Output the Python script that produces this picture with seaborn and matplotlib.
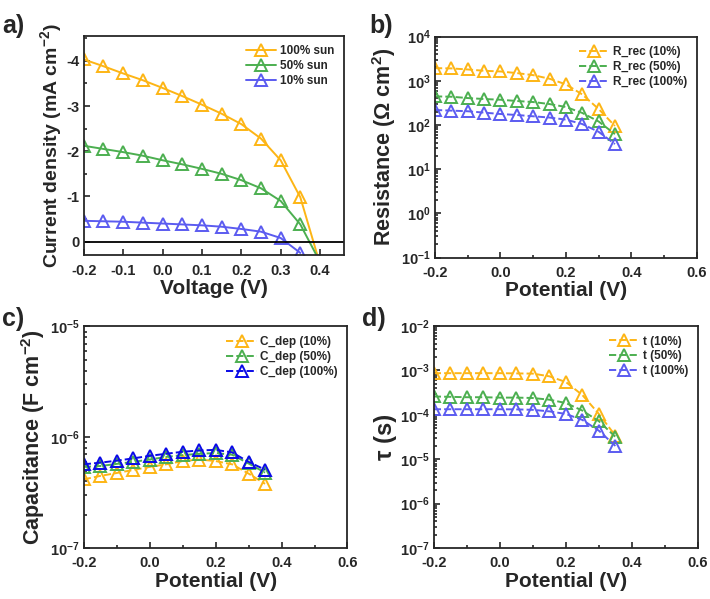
import numpy as np
import pandas as pd
import seaborn as sns
import matplotlib.pyplot as plt
from matplotlib.ticker import MultipleLocator, LogLocator, NullFormatter

# ---- data ----
v_jv = [-0.2, -0.15, -0.1, -0.05, 0.0, 0.05, 0.1, 0.15, 0.2, 0.25, 0.3, 0.35, 0.4]
j_100 = [-4.03, -3.88, -3.72, -3.57, -3.40, -3.22, -3.03, -2.83, -2.60, -2.28, -1.80, -0.98, 0.5]
j_50 = [-2.12, -2.05, -1.98, -1.90, -1.80, -1.71, -1.61, -1.50, -1.36, -1.18, -0.90, -0.38, 0.45]
j_10 = [-0.46, -0.45, -0.44, -0.42, -0.40, -0.38, -0.36, -0.33, -0.28, -0.22, -0.08, 0.25]

potential = [-0.2, -0.15, -0.1, -0.05, 0.0, 0.05, 0.1, 0.15, 0.2, 0.25, 0.3, 0.35]

r_10 = [1930, 1900, 1800, 1680, 1620, 1490, 1340, 1110, 830, 490, 230, 95]
r_50 = [443, 435, 406, 386, 372, 348, 330, 297, 255, 187, 120, 62]
r_100 = [218, 211, 204, 190, 177, 168, 157, 147, 132, 105, 70, 37]

c_10 = [4.17e-7, 4.48e-7, 4.76e-7, 5.07e-7, 5.4e-7, 5.7e-7, 6.1e-7, 6.3e-7, 6.1e-7, 5.7e-7, 4.7e-7, 3.8e-7]
c_50 = [5.4e-7, 5.5e-7, 5.75e-7, 6.0e-7, 6.3e-7, 6.65e-7, 6.9e-7, 7.1e-7, 7.2e-7, 6.95e-7, 5.8e-7, 4.8e-7]
c_100 = [5.7e-7, 5.9e-7, 6.15e-7, 6.45e-7, 6.8e-7, 7.1e-7, 7.4e-7, 7.6e-7, 7.7e-7, 7.3e-7, 6.0e-7, 5.1e-7]

t_10 = [8.7e-4, 8.7e-4, 8.7e-4, 8.7e-4, 8.7e-4, 8.6e-4, 8.5e-4, 7.4e-4, 5.5e-4, 2.8e-4, 1.05e-4, 3.4e-5]
t_50 = [2.6e-4, 2.55e-4, 2.5e-4, 2.5e-4, 2.45e-4, 2.45e-4, 2.4e-4, 2.2e-4, 1.85e-4, 1.25e-4, 7.2e-5, 3.2e-5]
t_100 = [1.34e-4, 1.34e-4, 1.34e-4, 1.34e-4, 1.34e-4, 1.33e-4, 1.3e-4, 1.2e-4, 1.05e-4, 7.7e-5, 4.4e-5, 2.0e-5]

orange = '#FDB515'
green = '#4CAF50'
blue = '#5B5BF0'
dark_blue = '#0A0AE6'

sns.set_style('ticks')
plt.rcParams['font.family'] = ['Liberation Sans', 'DejaVu Sans']
plt.rcParams['font.weight'] = 'bold'
plt.rcParams['axes.labelweight'] = 'bold'
plt.rcParams['mathtext.fontset'] = 'custom'
plt.rcParams['mathtext.rm'] = 'Liberation Sans:bold'
plt.rcParams['mathtext.bf'] = 'Liberation Sans:bold'
plt.rcParams['mathtext.it'] = 'Liberation Sans:bold:italic'
plt.rcParams['mathtext.default'] = 'rm'

fig = plt.figure(figsize=(7.1, 5.99), dpi=100)
ax_a = fig.add_axes([0.118, 0.574, 0.366, 0.366])
ax_b = fig.add_axes([0.6127, 0.570, 0.3686, 0.369])
ax_c = fig.add_axes([0.118, 0.085, 0.3714, 0.370])
ax_d = fig.add_axes([0.611, 0.085, 0.372, 0.3706])


def draw(ax, x, y, label, color, ls):
    df = pd.DataFrame({'x': x, 'y': y})
    sns.lineplot(data=df, x='x', y='y', ax=ax, color=color, label=label,
                 marker='^', markersize=8, markerfacecolor='none',
                 markeredgecolor=color, markeredgewidth=1.4,
                 linestyle=ls, linewidth=1.4, sort=False, estimator=None)


def style(ax, xlabel, ylabel, ysize=15):
    ax.set_xlabel(xlabel, fontsize=15, fontweight='bold', labelpad=1)
    ax.set_ylabel(ylabel, fontsize=ysize, fontweight='bold', labelpad=2)
    ax.tick_params(which='both', direction='in', labelsize=10.5, width=1.2)
    ax.tick_params(axis='x', which='both', pad=6)
    ax.tick_params(axis='y', which='both', pad=3)
    ax.tick_params(which='major', length=4)
    ax.tick_params(which='minor', length=2.5)
    for sp in ax.spines.values():
        sp.set_linewidth(1.3)
        sp.set_visible(True)
    leg = ax.legend(loc='upper right', frameon=False, fontsize=8.5,
                    handlelength=2.6, handletextpad=0.3, labelspacing=0.25,
                    borderaxespad=0.4)
    for t in leg.get_texts():
        t.set_fontweight('bold')


# a) J-V
draw(ax_a, v_jv, j_100, '100% sun', orange, '-')
draw(ax_a, v_jv, j_50, '50% sun', green, '-')
draw(ax_a, v_jv[:len(j_10)], j_10, '10% sun', blue, '-')
ax_a.axhline(0, color='black', linewidth=1.3)
ax_a.set_xlim(-0.2, 0.46)
ax_a.set_ylim(0.3, -4.55)
ax_a.xaxis.set_major_locator(MultipleLocator(0.1))
ax_a.yaxis.set_major_locator(MultipleLocator(1))
ax_a.yaxis.set_minor_locator(MultipleLocator(0.5))
ax_a.xaxis.set_major_formatter(plt.FuncFormatter(lambda v, p: f'{v:.1f}'))
ax_a.yaxis.set_major_formatter(plt.FuncFormatter(lambda v, p: f'{v:.0f}'))
style(ax_a, 'Voltage (V)', 'Current density (mA cm$^{-2}$)', ysize=14)

# b) Resistance
draw(ax_b, potential, r_10, 'R_rec (10%)', orange, '--')
draw(ax_b, potential, r_50, 'R_rec (50%)', green, '--')
draw(ax_b, potential, r_100, 'R_rec (100%)', blue, '--')
ax_b.set_yscale('log')
ax_b.set_ylim(1e-1, 1e4)
style(ax_b, 'Potential (V)', 'Resistance (Ω cm$^{2}$)', ysize=15.5)

# c) Capacitance
draw(ax_c, potential, c_10, 'C_dep (10%)', orange, '--')
draw(ax_c, potential, c_50, 'C_dep (50%)', green, '--')
draw(ax_c, potential, c_100, 'C_dep (100%)', dark_blue, '--')
ax_c.set_yscale('log')
ax_c.set_ylim(1e-7, 1e-5)
style(ax_c, 'Potential (V)', 'Capacitance (F cm$^{-2}$)', ysize=15.5)

# d) lifetime
draw(ax_d, potential, t_10, 't (10%)', orange, '--')
draw(ax_d, potential, t_50, 't (50%)', green, '--')
draw(ax_d, potential, t_100, 't (100%)', blue, '--')
ax_d.set_yscale('log')
ax_d.set_ylim(1e-7, 1e-2)
style(ax_d, 'Potential (V)', 'τ (s)', ysize=17)

for ax in (ax_b, ax_c, ax_d):
    ax.set_xlim(-0.2, 0.6)
    ax.xaxis.set_major_locator(MultipleLocator(0.2))
    ax.xaxis.set_minor_locator(MultipleLocator(0.1))
    ax.xaxis.set_major_formatter(plt.FuncFormatter(lambda v, p: f'{v:.1f}'))
    ax.yaxis.set_major_locator(LogLocator(base=10, numticks=20))
    ax.yaxis.set_minor_locator(LogLocator(base=10, subs=np.arange(2, 10), numticks=20))
    ax.yaxis.set_minor_formatter(NullFormatter())

for ax in (ax_a, ax_b, ax_c, ax_d):
    for lab in ax.get_xticklabels() + ax.get_yticklabels():
        lab.set_fontweight('bold')

for txt, x, y in [('a)', 0.003, 0.945), ('b)', 0.52, 0.945),
                  ('c)', 0.003, 0.455), ('d)', 0.51, 0.455)]:
    fig.text(x, y, txt, fontsize=18, fontweight='bold')

fig.savefig('out.png', dpi=100)
